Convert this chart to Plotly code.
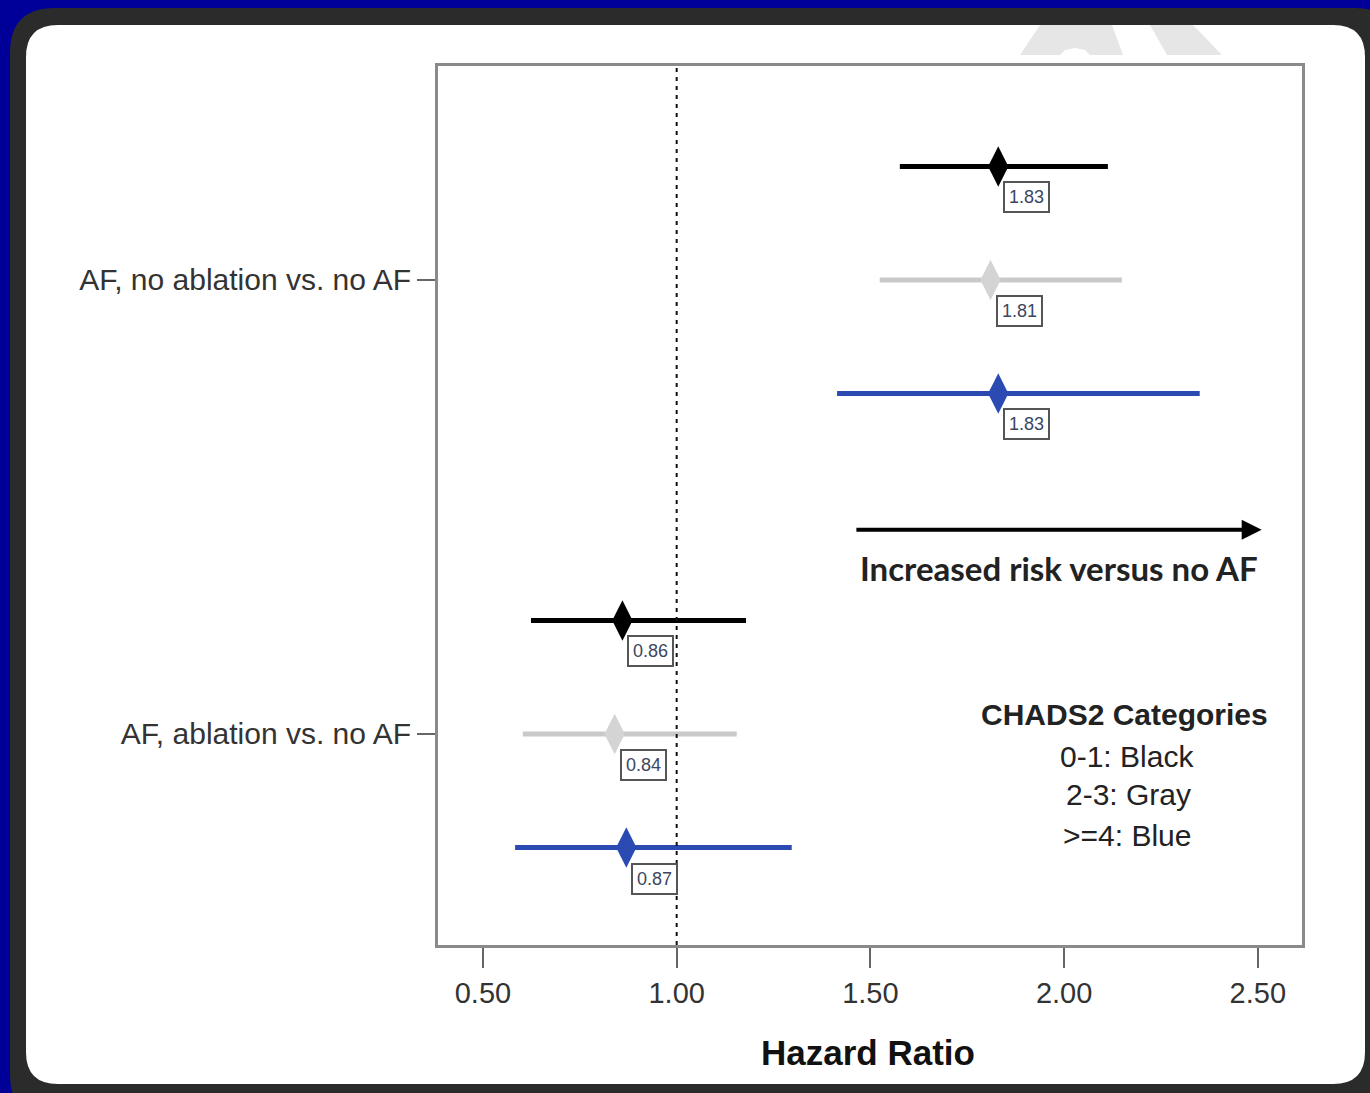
import plotly.graph_objects as go

# ---------------- data ----------------
groups = ["AF, no ablation vs. no AF", "AF, ablation vs. no AF"]
group_pos = [4, 0]
categories = ["0-1", "2-3", ">=4"]
cat_offsets = [1, 0, -1]
cat_colors = ["#000000", "#c9c9c9", "#2b4bb3"]
marker_colors = ["#000000", "#d4d4d4", "#2b4bb3"]

# hazard ratios (point, lower, upper) per group, per category
hr_point = [[1.83, 1.81, 1.83], [0.86, 0.84, 0.87]]
hr_lower = [[1.576, 1.524, 1.414], [0.624, 0.603, 0.583]]
hr_upper = [[2.113, 2.149, 2.350], [1.179, 1.155, 1.297]]

x_ticks = [0.5, 1.0, 1.5, 2.0, 2.5]
x_ticklabels = ["0.50", "1.00", "1.50", "2.00", "2.50"]

W, H = 1370, 1093
L, R, T, B = 438, 1302, 66, 945  # plot area in pixels


def px(X):
    return (X - L) / (R - L)


def py(Y):
    return (B - Y) / (B - T)


def rrect(x0, y0, x1, y1, r):
    pts = []
    pts.append(f"M {px(x0 + r)} {py(y0)}")
    pts.append(f"L {px(x1 - r)} {py(y0)}")
    pts.append(f"Q {px(x1)} {py(y0)} {px(x1)} {py(y0 + r)}")
    pts.append(f"L {px(x1)} {py(y1 - r)}")
    pts.append(f"Q {px(x1)} {py(y1)} {px(x1 - r)} {py(y1)}")
    pts.append(f"L {px(x0 + r)} {py(y1)}")
    pts.append(f"Q {px(x0)} {py(y1)} {px(x0)} {py(y1 - r)}")
    pts.append(f"L {px(x0)} {py(y0 + r)}")
    pts.append(f"Q {px(x0)} {py(y0)} {px(x0 + r)} {py(y0)}")
    pts.append("Z")
    return " ".join(pts)


def poly(points):
    return "M " + " L ".join(f"{px(a)} {py(b)}" for a, b in points) + " Z"


fig = go.Figure()

FONT = "Arial, 'Liberation Sans', sans-serif"

for gi, g in enumerate(groups):
    for ci, c in enumerate(categories):
        p = hr_point[gi][ci]
        lo = hr_lower[gi][ci]
        hi = hr_upper[gi][ci]
        yv = group_pos[gi] + cat_offsets[ci]
        fig.add_trace(go.Scatter(
            x=[p], y=[yv], mode="markers",
            marker=dict(symbol="diamond-tall", size=29, color=marker_colors[ci],
                        line=dict(width=0)),
            error_x=dict(type="data", symmetric=False, array=[hi - p],
                         arrayminus=[p - lo], thickness=5, width=0,
                         color=cat_colors[ci]),
            showlegend=False, hoverinfo="skip",
        ))
        fig.add_annotation(
            x=p, y=yv, xref="x", yref="y", text=f"{p:.2f}",
            showarrow=False, xanchor="left", yanchor="middle",
            xshift=5, yshift=-31,
            font=dict(family=FONT, size=18, color="#3c4660"),
            bordercolor="#555555", borderwidth=2, borderpad=4,
            bgcolor="white",
        )

# dotted reference line at HR = 1
fig.add_shape(type="line", xref="x", yref="paper", x0=1.0, x1=1.0, y0=0, y1=1,
              line=dict(color="#111111", width=2, dash="4px,5px"), layer="above")

# arrow
fig.add_annotation(
    x=2.51, y=1.80, ax=1.46, ay=1.80, xref="x", yref="y", axref="x", ayref="y",
    showarrow=True, arrowhead=2, arrowsize=1.0, arrowwidth=4, arrowcolor="#000000",
    text="",
)
fig.add_annotation(
    x=px(1059), y=py(568), xref="paper", yref="paper", showarrow=False,
    text="<b>Increased risk versus no AF</b>",
    font=dict(family="Lato, 'Open Sans', sans-serif", size=33, color="#222222"),
    xanchor="center", yanchor="middle",
)

# legend text
leg = [("<b>CHADS2 Categories</b>", 1124, 714),
       ("0-1: Black", 1127, 756),
       ("2-3: Gray", 1128, 794),
       (">=4: Blue", 1127, 835)]
for txt, X, Y in leg:
    fig.add_annotation(
        x=px(X), y=py(Y), xref="paper", yref="paper", showarrow=False, text=txt,
        font=dict(family=FONT, size=30, color="#222222"),
        xanchor="center", yanchor="middle",
    )

# x-axis title
fig.add_annotation(
    x=px(868), y=py(1052), xref="paper", yref="paper", showarrow=False,
    text="<b>Hazard Ratio</b>", font=dict(family=FONT, size=35, color="#111111"),
    xanchor="center", yanchor="middle",
)

shapes = [
    dict(type="path", xref="paper", yref="paper", path=rrect(10, 8, 1400, 1120, 45),
         fillcolor="#2b2b2b", line=dict(width=0), layer="below"),
    dict(type="path", xref="paper", yref="paper", path=rrect(26, 25, 1365, 1084, 32),
         fillcolor="#ffffff", line=dict(width=0), layer="below"),
    dict(type="path", xref="paper", yref="paper",
         path=poly([(1040, 25), (1112, 25), (1123, 55), (1020, 55)]),
         fillcolor="#e6e6e6", line=dict(width=0), layer="below"),
    dict(type="path", xref="paper", yref="paper",
         path=poly([(1060, 55), (1065, 50), (1075, 48), (1085, 50), (1090, 55)]),
         fillcolor="#ffffff", line=dict(width=0), layer="below"),
    dict(type="path", xref="paper", yref="paper",
         path=poly([(1150, 25), (1193, 25), (1222, 55), (1167, 55)]),
         fillcolor="#e6e6e6", line=dict(width=0), layer="below"),
]
for s in shapes:
    fig.add_shape(**s)

fig.update_layout(
    width=W, height=H,
    margin=dict(l=L, r=W - R, t=T, b=H - B, pad=0),
    paper_bgcolor="#000099",
    plot_bgcolor="rgba(0,0,0,0)",
    showlegend=False,
    xaxis=dict(
        range=[0.384, 2.614], tickvals=x_ticks, ticktext=x_ticklabels,
        showgrid=False, zeroline=False,
        showline=True, mirror=True, linecolor="#8a8a8a", linewidth=3,
        ticks="outside", ticklen=20, tickwidth=2, tickcolor="#666666",
        tickfont=dict(family=FONT, size=29, color="#333333"),
    ),
    yaxis=dict(
        range=[-1.859, 5.885], tickvals=group_pos, ticktext=groups,
        showgrid=False, zeroline=False,
        showline=True, mirror=True, linecolor="#8a8a8a", linewidth=3,
        ticks="outside", ticklen=18, tickwidth=2, tickcolor="#666666",
        tickfont=dict(family=FONT, size=30, color="#333333"),
    ),
)

fig.write_html("out.html", config={"displayModeBar": False},
               post_script="document.body.style.margin='0';document.body.style.overflow='hidden';")
